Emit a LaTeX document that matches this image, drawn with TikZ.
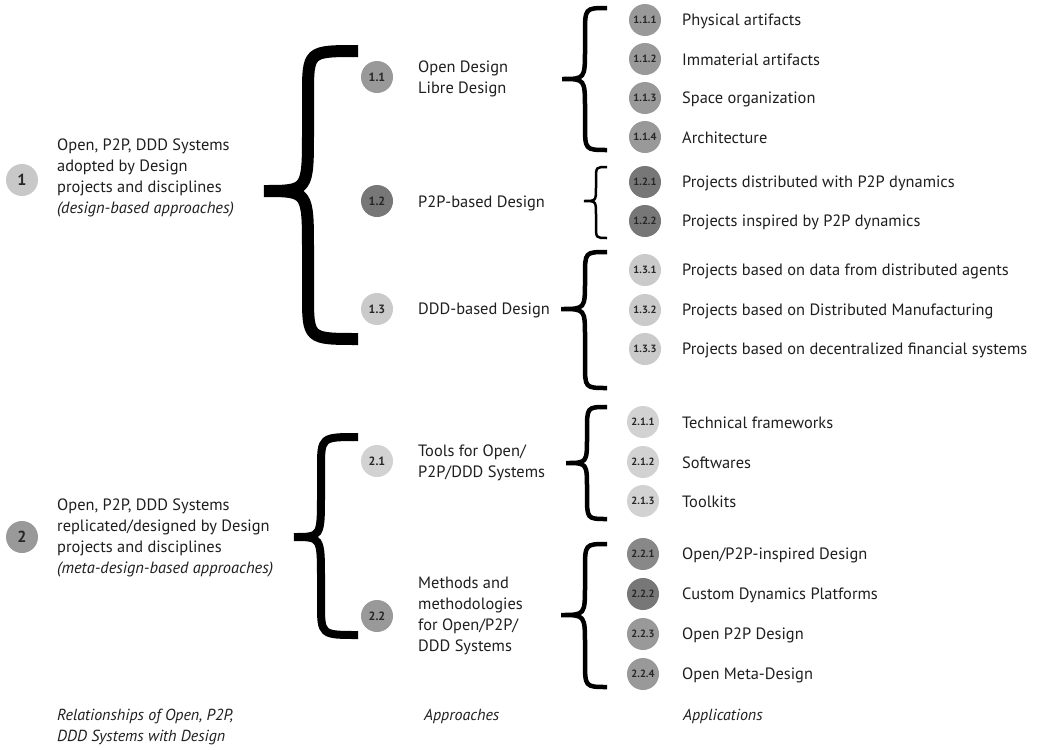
\documentclass[tikz,border=0pt]{standalone}
\usepackage{fontspec}
\setmainfont{PT Sans}
\newcommand\mybrace[9]{% xe xs xt ytop ymid ybot r1 r2 width
  \draw[line width=#9] (#1,#4) .. controls (#2,#4) .. (#2,{#4+#7}) -- (#2,{#5-#8})
    .. controls (#2,#5) .. (#3,#5) .. controls (#2,#5) .. (#2,{#5+#8})
    -- (#2,{#6-#7}) .. controls (#2,#6) .. (#1,#6);}
\begin{document}
\begin{tikzpicture}[x=1pt,y=-1pt,
  txt/.style={anchor=west, inner sep=0pt, align=left, font=\fontsize{16.4}{21}\selectfont, text=black!88},
  captxt/.style={anchor=west, inner sep=0pt, align=left, font=\fontsize{16}{20.5}\selectfont\itshape, text=black!88},
  num/.style={circle, minimum size=32pt, inner sep=0pt, font=\fontsize{10.5}{11}\selectfont\bfseries, text=black!85},
  mid/.style={num, font=\fontsize{12}{12}\selectfont\bfseries},
  big/.style={num, font=\fontsize{16}{16}\selectfont\bfseries}]
\useasboundingbox[fill=white] (0,0) rectangle (1042,750);
\definecolor{gA}{HTML}{C8C8C8}
\definecolor{gB}{HTML}{999999}
\definecolor{gC}{HTML}{777777}
\definecolor{gD}{HTML}{CACACA}
\definecolor{gE}{HTML}{D2D2D2}
\definecolor{gF}{HTML}{888888}

% level 1
\node[big, fill=gA] (c1) at (22,180) {1};
\node[txt] (t1) at (57,178) {Open, P2P, DDD Systems\\adopted by Design\\projects and disciplines\\\textit{(design-based approaches)}};
\node[big, fill=gB] (c2) at (22,537) {2};
\node[txt] (t2) at (57,538) {Open, P2P, DDD Systems\\replicated/designed by Design\\projects and disciplines\\\textit{(meta-design-based approaches)}};

% braces level 1
\mybrace{358}{308}{264}{51}{191}{339}{45}{60}{12pt}
\mybrace{358}{321}{294}{437}{537}{635}{32}{42}{8pt}

% level 2
\node[mid, fill=gB] (c11) at (377,77) {1.1};
\node[txt] (t11) at (418,79) {Open Design\\Libre Design};
\node[mid, fill=gC] (c12) at (377,201) {1.2};
\node[txt] (t12) at (418,203) {P2P-based Design};
\node[mid, fill=gD] (c13) at (377,309) {1.3};
\node[txt] (t13) at (418,310) {DDD-based Design};
\node[mid, fill=gE] (c21) at (377,461) {2.1};
\node[txt] (t21) at (418,463) {Tools for Open/\\P2P/DDD Systems};
\node[mid, fill=gB] (c22) at (377,616) {2.2};
\node[txt] (t22) at (418,616) {Methods and\\methodologies\\for Open/P2P/\\DDD Systems};

% braces level 2
\mybrace{607}{585}{562}{8}{79}{150}{26}{30}{4.5pt}
\mybrace{607}{596}{584}{167}{201}{238}{12}{14}{2.5pt}
\mybrace{607}{585}{561}{252}{309}{388}{24}{28}{4.5pt}
\mybrace{607}{587}{566}{407}{463}{519}{24}{26}{4.5pt}
\mybrace{607}{585}{561}{544}{615}{687}{26}{30}{4.5pt}

% level 3
\node[num, fill=gB] (c111) at (645,20) {1.1.1};
\node[txt] (t111) at (682,21) {Physical artifacts};
\node[num, fill=gB] (c112) at (645,59) {1.1.2};
\node[txt] (t112) at (682,60) {Immaterial artifacts};
\node[num, fill=gB] (c113) at (645,98) {1.1.3};
\node[txt] (t113) at (682,99) {Space organization};
\node[num, fill=gB] (c114) at (645,137) {1.1.4};
\node[txt] (t114) at (682,138) {Architecture};

\node[num, fill=gC] (c121) at (645,182) {1.2.1};
\node[txt] (t121) at (682,183) {Projects distributed with P2P dynamics};
\node[num, fill=gC] (c122) at (645,221) {1.2.2};
\node[txt] (t122) at (682,222) {Projects inspired by P2P dynamics};

\node[num, fill=gD] (c131) at (645,270) {1.3.1};
\node[txt] (t131) at (682,271) {Projects based on data from distributed agents};
\node[num, fill=gD] (c132) at (645,310) {1.3.2};
\node[txt] (t132) at (682,311) {Projects based on Distributed Manufacturing};
\node[num, fill=gD] (c133) at (645,349) {1.3.3};
\node[txt] (t133) at (682,350) {Projects based on decentralized financial systems};

\node[num, fill=gE] (c211) at (643,422) {2.1.1};
\node[txt] (t211) at (682,423) {Technical frameworks};
\node[num, fill=gE] (c212) at (643,462) {2.1.2};
\node[txt] (t212) at (682,463) {Softwares};
\node[num, fill=gE] (c213) at (643,501) {2.1.3};
\node[txt] (t213) at (682,502) {Toolkits};

\node[num, fill=gF] (c221) at (643,554) {2.2.1};
\node[txt] (t221) at (682,555) {Open/P2P-inspired Design};
\node[num, fill=gC] (c222) at (643,594) {2.2.2};
\node[txt] (t222) at (682,595) {Custom Dynamics Platforms};
\node[num, fill=gB] (c223) at (643,634) {2.2.3};
\node[txt] (t223) at (682,635) {Open P2P Design};
\node[num, fill=gB] (c224) at (643,674) {2.2.4};
\node[txt] (t224) at (682,675) {Open Meta-Design};

% captions
\node[captxt, anchor=north west] (k1) at (57,709) {Relationships of Open, P2P,\\DDD Systems with Design};
\node[captxt, anchor=north west] (k2) at (424,709) {Approaches};
\node[captxt, anchor=north west] (k3) at (683,709) {Applications};
\end{tikzpicture}
\end{document}
